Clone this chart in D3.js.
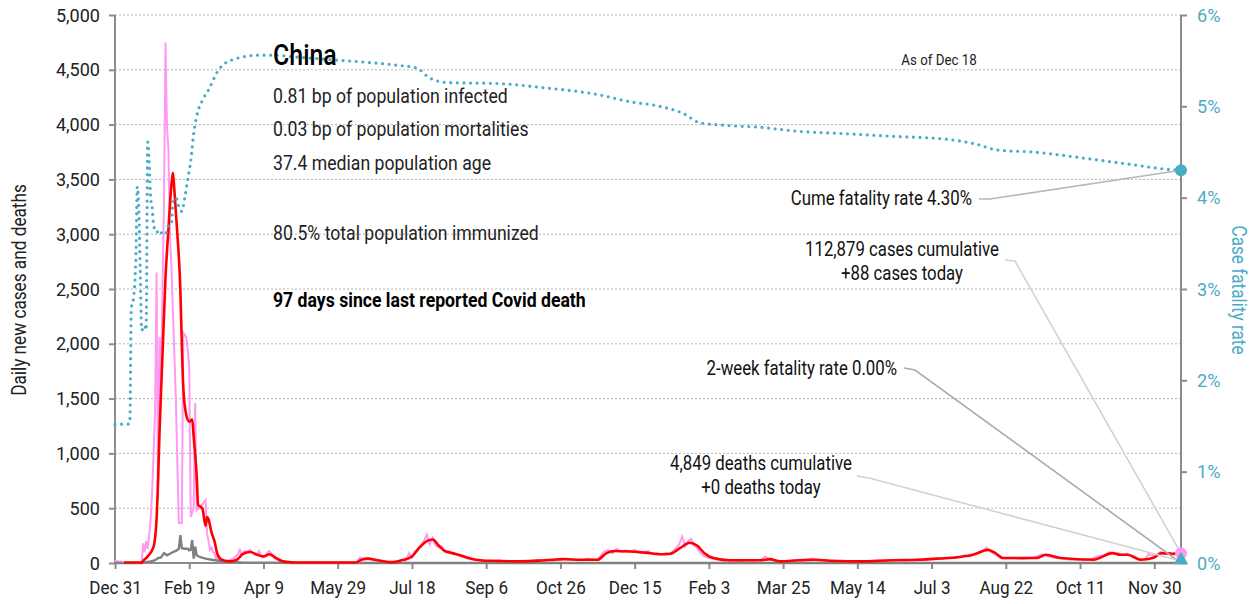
<!DOCTYPE html>
<html><head><meta charset="utf-8">
<script src="https://cdn.jsdelivr.net/npm/d3@7"></script>
<style>
body{margin:0;background:#fff;}
svg text{font-family:Roboto,"Noto Sans",sans-serif;}
</style></head><body>
<svg id="c" width="1255" height="604"></svg>
<script>
// ---------- DATA ----------
const startDate = "2019-12-31";
const endDate = "2021-12-18";
const yTicks = [0,500,1000,1500,2000,2500,3000,3500,4000,4500,5000];
const y2Ticks = [0,1,2,3,4,5,6];

// raw daily new cases (pink)
const dailyCases = [
["2019-12-31",25],["2020-01-01",10],["2020-01-02",20],["2020-01-03",5],["2020-01-04",15],["2020-01-05",0],
["2020-01-17",0],["2020-01-18",10],["2020-01-19",180],["2020-01-20",100],["2020-01-21",200],["2020-01-22",130],
["2020-01-23",250],["2020-01-24",400],["2020-01-25",650],["2020-01-26",1000],["2020-01-27",1400],["2020-01-28",2650],
["2020-01-29",575],["2020-01-30",2060],["2020-01-31",1640],["2020-02-01",2500],["2020-02-02",3300],["2020-02-03",4750],
["2020-02-04",3980],["2020-02-05",3770],["2020-02-06",3000],["2020-02-07",2700],["2020-02-08",2300],["2020-02-09",1900],
["2020-02-10",1490],["2020-02-11",900],["2020-02-12",365],["2020-02-14",365],["2020-02-15",2100],["2020-02-17",2060],
["2020-02-18",1950],["2020-02-19",1790],["2020-02-20",420],["2020-02-22",500],["2020-02-23",1460],["2020-02-24",480],
["2020-02-28",540],["2020-03-01",575],["2020-03-02",270],["2020-03-03",200],["2020-03-04",120],["2020-03-05",140],
["2020-03-06",100],["2020-03-07",90],["2020-03-08",40],["2020-03-09",60],["2020-03-10",25],["2020-03-12",15],
["2020-03-14",20],["2020-03-17",25],["2020-03-20",45],["2020-03-23",80],["2020-03-24",130],["2020-03-25",70],
["2020-03-27",110],["2020-03-29",100],["2020-03-31",120],["2020-04-02",90],["2020-04-04",70],["2020-04-06",110],
["2020-04-08",50],["2020-04-10",60],["2020-04-12",100],["2020-04-13",110],["2020-04-15",70],["2020-04-17",40],
["2020-04-20",15],["2020-04-25",8],["2020-05-01",4],["2020-05-08",6],["2020-05-15",8],["2020-05-22",3],
["2020-05-29",5],["2020-06-05",4],["2020-06-11",10],["2020-06-13",50],["2020-06-15",40],["2020-06-17",30],
["2020-06-19",45],["2020-06-22",25],["2020-06-26",20],["2020-06-30",10],["2020-07-04",8],["2020-07-08",12],
["2020-07-11",30],["2020-07-14",20],["2020-07-16",90],["2020-07-18",50],["2020-07-20",110],["2020-07-22",120],
["2020-07-24",160],["2020-07-26",200],["2020-07-28",260],["2020-07-30",170],["2020-08-01",230],["2020-08-03",160],
["2020-08-05",140],["2020-08-07",150],["2020-08-09",100],["2020-08-12",110],["2020-08-15",80],["2020-08-18",75],
["2020-08-21",55],["2020-08-24",40],["2020-08-27",35],["2020-08-31",25],["2020-09-05",20],["2020-09-10",15],
["2020-09-15",25],["2020-09-20",10],["2020-09-25",15],["2020-10-01",20],["2020-10-06",15],["2020-10-11",25],
["2020-10-16",30],["2020-10-21",20],["2020-10-26",40],["2020-10-30",35],["2020-11-04",30],["2020-11-09",25],
["2020-11-14",40],["2020-11-19",25],["2020-11-22",60],["2020-11-24",100],["2020-11-27",120],["2020-11-30",90],
["2020-12-03",130],["2020-12-06",100],["2020-12-09",115],["2020-12-12",105],["2020-12-15",120],["2020-12-18",95],
["2020-12-21",90],["2020-12-24",110],["2020-12-27",80],["2020-12-30",90],["2021-01-02",75],["2021-01-05",90],
["2021-01-08",80],["2021-01-10",110],["2021-01-12",140],["2021-01-14",170],["2021-01-16",240],["2021-01-18",150],
["2021-01-20",200],["2021-01-22",220],["2021-01-24",160],["2021-01-26",140],["2021-01-28",100],["2021-01-30",70],
["2021-02-02",50],["2021-02-05",40],["2021-02-09",30],["2021-02-13",20],["2021-02-18",25],["2021-02-23",15],
["2021-02-28",25],["2021-03-05",20],["2021-03-10",30],["2021-03-13",60],["2021-03-16",30],["2021-03-20",20],
["2021-03-25",10],["2021-03-30",20],["2021-04-03",30],["2021-04-08",25],["2021-04-13",40],["2021-04-18",25],
["2021-04-23",20],["2021-04-28",15],["2021-05-05",20],["2021-05-12",10],["2021-05-19",15],["2021-05-26",25],
["2021-06-02",20],["2021-06-09",30],["2021-06-16",20],["2021-06-23",35],["2021-06-30",25],["2021-07-05",40],
["2021-07-10",35],["2021-07-15",50],["2021-07-20",45],["2021-07-25",70],["2021-07-29",60],["2021-08-02",90],
["2021-08-06",110],["2021-08-09",140],["2021-08-12",100],["2021-08-15",80],["2021-08-18",50],["2021-08-22",40],
["2021-08-27",45],["2021-09-01",35],["2021-09-06",40],["2021-09-10",50],["2021-09-13",70],["2021-09-16",80],
["2021-09-20",60],["2021-09-24",45],["2021-09-29",40],["2021-10-04",30],["2021-10-09",35],["2021-10-14",25],
["2021-10-19",40],["2021-10-23",60],["2021-10-27",70],["2021-10-31",100],["2021-11-03",85],["2021-11-06",90],
["2021-11-09",70],["2021-11-12",85],["2021-11-15",60],["2021-11-18",40],["2021-11-21",25],["2021-11-24",35],
["2021-11-26",80],["2021-11-28",70],["2021-12-01",60],["2021-12-04",100],["2021-12-07",80],["2021-12-10",95],
["2021-12-13",75],["2021-12-16",90],["2021-12-18",88]
];

// 7-day average of new cases (red)
const avgCases = [
["2020-01-06",5],["2020-01-18",5],["2020-01-19",20],["2020-01-22",60],["2020-01-26",150],["2020-01-28",400],
["2020-01-29",750],["2020-01-30",1200],["2020-02-01",1900],["2020-02-03",2600],["2020-02-05",3050],["2020-02-07",3450],
["2020-02-08",3560],["2020-02-09",3400],["2020-02-11",3000],["2020-02-13",2500],["2020-02-14",2000],["2020-02-15",1600],
["2020-02-17",1350],["2020-02-19",1290],["2020-02-21",1310],["2020-02-22",1150],["2020-02-24",800],["2020-02-25",530],
["2020-02-27",510],["2020-02-28",490],["2020-03-01",340],["2020-03-02",420],["2020-03-03",400],["2020-03-05",280],
["2020-03-07",200],["2020-03-09",80],["2020-03-12",30],["2020-03-17",15],["2020-03-22",30],["2020-03-26",80],
["2020-03-31",100],["2020-04-05",75],["2020-04-09",60],["2020-04-13",80],["2020-04-17",50],["2020-04-22",15],
["2020-04-30",5],["2020-06-10",5],["2020-06-14",30],["2020-06-18",40],["2020-06-25",25],["2020-07-05",8],
["2020-07-11",25],["2020-07-18",60],["2020-07-23",140],["2020-07-28",200],["2020-08-01",215],["2020-08-05",160],
["2020-08-09",110],["2020-08-16",85],["2020-08-23",55],["2020-08-30",30],["2020-09-09",20],["2020-09-29",15],
["2020-10-16",25],["2020-10-29",35],["2020-11-08",30],["2020-11-20",30],["2020-11-26",90],["2020-12-02",110],
["2020-12-12",105],["2020-12-22",95],["2021-01-01",80],["2021-01-08",85],["2021-01-15",140],["2021-01-21",185],
["2021-01-26",160],["2021-01-31",90],["2021-02-06",45],["2021-02-17",25],["2021-03-10",25],["2021-03-16",35],
["2021-03-23",15],["2021-04-05",25],["2021-04-16",30],["2021-04-26",20],["2021-05-16",15],["2021-05-29",20],
["2021-06-07",25],["2021-06-25",30],["2021-07-07",40],["2021-07-22",55],["2021-08-01",80],["2021-08-10",120],
["2021-08-15",90],["2021-08-20",45],["2021-09-12",45],["2021-09-18",75],["2021-09-28",45],["2021-10-20",30],
["2021-11-02",90],["2021-11-07",75],["2021-11-12",75],["2021-11-21",30],["2021-11-29",45],["2021-12-05",90],
["2021-12-12",85],["2021-12-18",90]
];

// daily deaths (grey)
const dailyDeaths = [
["2019-12-31",0],["2020-01-18",0],["2020-01-20",5],["2020-01-24",15],["2020-01-27",25],["2020-01-29",45],
["2020-01-31",50],["2020-02-02",90],["2020-02-04",70],["2020-02-06",85],["2020-02-08",100],["2020-02-10",110],
["2020-02-12",130],["2020-02-13",255],["2020-02-14",135],["2020-02-16",130],["2020-02-18",130],["2020-02-19",115],
["2020-02-20",120],["2020-02-21",210],["2020-02-22",40],["2020-02-23",150],["2020-02-24",70],["2020-02-26",55],
["2020-03-01",40],["2020-03-05",30],["2020-03-10",20],["2020-03-15",12],["2020-03-20",8],["2020-03-25",5],
["2020-04-01",3],["2020-04-15",2],["2020-05-01",0],["2021-12-18",0]
];

// cumulative case fatality rate, % (teal dotted)
const cfr = [
["2019-12-31",1.52],["2020-01-09",1.52],["2020-01-10",1.55],["2020-01-11",2.8],["2020-01-12",2.85],["2020-01-14",3.3],
["2020-01-15",4.12],["2020-01-16",3.9],["2020-01-17",3.2],["2020-01-18",2.55],["2020-01-20",2.6],["2020-01-21",2.55],
["2020-01-22",4.61],["2020-01-23",4.4],["2020-01-24",4.0],["2020-01-25",3.9],["2020-01-26",3.7],["2020-01-28",3.62],
["2020-01-30",3.65],["2020-02-01",3.6],["2020-02-03",3.6],["2020-02-05",3.7],["2020-02-07",3.72],["2020-02-08",3.95],
["2020-02-10",4.0],["2020-02-12",3.9],["2020-02-14",3.85],["2020-02-16",4.0],["2020-02-18",4.2],["2020-02-20",4.4],
["2020-02-22",4.7],["2020-02-24",4.89],["2020-02-28",5.07],["2020-03-03",5.18],["2020-03-09",5.38],["2020-03-19",5.51],
["2020-04-06",5.56],["2020-04-15",5.56],["2020-05-01",5.54],["2020-05-25",5.51],["2020-06-19",5.48],["2020-07-08",5.45],
["2020-07-21",5.42],["2020-07-30",5.31],["2020-08-11",5.26],["2020-09-13",5.25],["2020-10-17",5.2],["2020-11-20",5.13],
["2020-12-12",5.05],["2021-01-01",5.0],["2021-01-17",4.92],["2021-01-28",4.82],["2021-02-16",4.79],["2021-03-10",4.77],
["2021-04-02",4.73],["2021-05-06",4.70],["2021-06-09",4.67],["2021-07-13",4.64],["2021-08-01",4.59],["2021-08-17",4.52],
["2021-09-09",4.50],["2021-10-01",4.46],["2021-10-24",4.41],["2021-11-16",4.36],["2021-12-09",4.31],["2021-12-18",4.30]
];

const twoWeekCfr = 0.00;
const country = "China";
const infoLines = ["0.81 bp of population infected","0.03 bp of population mortalities","37.4 median population age"];
const immunized = "80.5% total population immunized";
const sinceDeath = "97 days since last reported Covid death";
const asOf = "As of Dec 18";
const cumeText = "Cume fatality rate 4.30%";
const casesText = ["112,879 cases cumulative","+88 cases today"];
const twoWeekText = "2-week fatality rate 0.00%";
const deathsText = ["4,849 deaths cumulative","+0 deaths today"];

// ---------- CHART ----------
const parse = d3.utcParse("%Y-%m-%d");
const svg = d3.select("#c");
const L = 115, R = 1181, T = 15, B = 563;
const teal = "#4bacc6", pink = "#ff99f2", red = "#ff0000", grey = "#808080", axisC = "#8c8c8c";
const FONT = 'Roboto,"Noto Sans",sans-serif';

// horizontally condense text glyphs (narrow typeface look)
function condense(sel, k) {
  sel.each(function () {
    const w = this.getComputedTextLength();
    this.setAttribute("textLength", (w * k).toFixed(1));
    this.setAttribute("lengthAdjust", "spacingAndGlyphs");
  });
}

const x = d3.scaleUtc().domain([parse(startDate), parse(endDate)]).range([L, R]);
const y = d3.scaleLinear().domain([0, 5000]).range([B, T]);
const y2 = d3.scaleLinear().domain([0, 6]).range([B, T]);

// grid
svg.append("g").selectAll("line").data(yTicks.filter(d => d > 0)).join("line")
  .attr("x1", L).attr("x2", R).attr("y1", d => y(d)).attr("y2", d => y(d))
  .attr("stroke", "#b4b4b4").attr("stroke-width", 1).attr("stroke-dasharray", "2,2");

// axes
const fmt = d3.format(",");
const gl = svg.append("g").attr("transform", `translate(${L},0)`)
  .call(d3.axisLeft(y).tickValues(yTicks).tickFormat(fmt).tickSize(6).tickPadding(9));
const gr = svg.append("g").attr("transform", `translate(${R},0)`)
  .call(d3.axisRight(y2).tickValues(y2Ticks).tickFormat(d => d + "%").tickSize(6).tickPadding(10));
const start = parse(startDate);
const xTicks = d3.range(0, 15).map(i => d3.utcDay.offset(start, i * 50));
const gb = svg.append("g").attr("transform", `translate(0,${B})`)
  .call(d3.axisBottom(x).tickValues(xTicks).tickFormat(d3.utcFormat("%b %-d")).tickSize(6).tickPadding(12));
[gl, gr, gb].forEach(g => {
  g.select(".domain").attr("stroke", axisC).attr("stroke-width", 2);
  g.selectAll(".tick line").attr("stroke", axisC).attr("stroke-width", 2);
  g.selectAll("text").attr("font-size", 19).attr("fill", "#222").style("font-family", FONT);
});
gl.select(".domain").attr("d", `M0,${T}V${B}`);
gr.select(".domain").attr("d", `M0,${T}V${B}`);
gb.select(".domain").attr("d", `M${L},0H${R}`);
gr.selectAll("text").attr("fill", teal);
condense(gl.selectAll("text"), 0.95);
condense(gr.selectAll("text"), 0.95);
condense(gb.selectAll("text"), 0.9);

// axis titles
const t1 = svg.append("text").attr("transform", `translate(26,290) rotate(-90)`).attr("text-anchor", "middle")
  .attr("font-size", 20).attr("fill", "#222").text("Daily new cases and deaths");
const t2 = svg.append("text").attr("transform", `translate(1232,290) rotate(90)`).attr("text-anchor", "middle")
  .attr("font-size", 20).attr("fill", teal).text("Case fatality rate");

// lines
const line = (ys, curve) => d3.line().x(d => x(parse(d[0]))).y(d => ys(d[1])).curve(curve);
svg.append("path").datum(dailyCases).attr("d", line(y, d3.curveLinear))
  .attr("fill", "none").attr("stroke", pink).attr("stroke-width", 2);
svg.append("path").datum(dailyDeaths).attr("d", line(y, d3.curveLinear))
  .attr("fill", "none").attr("stroke", grey).attr("stroke-width", 2.4);
svg.append("path").datum(avgCases).attr("d", line(y, d3.curveMonotoneX))
  .attr("fill", "none").attr("stroke", red).attr("stroke-width", 2.6);
svg.append("path").datum(cfr).attr("d", line(y2, d3.curveMonotoneX))
  .attr("fill", "none").attr("stroke", teal).attr("stroke-width", 3.2)
  .attr("stroke-linecap", "round").attr("stroke-dasharray", "0,6.6");

// end markers
const ex = x(parse(endDate));
const lastCases = dailyCases[dailyCases.length - 1][1];
const lastCfr = cfr[cfr.length - 1][1];
const lastDeaths = dailyDeaths[dailyDeaths.length - 1][1];

// leader lines
const leader = (pts, color) => svg.append("polyline").attr("points", pts.map(p => p.join(",")).join(" "))
  .attr("fill", "none").attr("stroke", color).attr("stroke-width", 1.6);
leader([[979, 199], [990, 199], [ex, y2(lastCfr)]], "#b8b8b8");
leader([[1005, 260], [1015, 261], [ex, y(lastCases)]], "#d2d2d2");
leader([[904, 368], [915, 370], [ex, y2(twoWeekCfr)]], "#ababab");
leader([[857, 476], [869, 478], [ex, y(lastDeaths) - 2]], "#d2d2d2");

svg.append("circle").attr("cx", ex).attr("cy", y(lastCases)).attr("r", 6).attr("fill", pink);
svg.append("circle").attr("cx", ex).attr("cy", y2(lastCfr)).attr("r", 6).attr("fill", teal);
svg.append("path").attr("d", d3.symbol(d3.symbolTriangle, 90)())
  .attr("transform", `translate(${ex},${y2(twoWeekCfr) - 3})`).attr("fill", teal);

// text block
const T1 = svg.append("g");
T1.append("text").attr("x", 273).attr("y", 55).attr("dominant-baseline", "central")
  .attr("font-size", 29).attr("font-weight", "500").attr("fill", "#000").text(country);
infoLines.forEach((t, i) => T1.append("text").attr("x", 273).attr("y", [96, 129, 163][i])
  .attr("dominant-baseline", "central").attr("font-size", 20.5).attr("fill", "#222").text(t));
T1.append("text").attr("x", 273).attr("y", 233).attr("dominant-baseline", "central")
  .attr("font-size", 20.5).attr("fill", "#222").text(immunized);
T1.append("text").attr("x", 273).attr("y", 300).attr("dominant-baseline", "central")
  .attr("font-size", 20.5).attr("font-weight", "bold").attr("fill", "#000").text(sinceDeath);
const asOfT = svg.append("text").attr("x", 939).attr("y", 60).attr("dominant-baseline", "central").attr("text-anchor", "middle")
  .attr("font-size", 15.5).attr("fill", "#222").text(asOf);

const anns = svg.append("g");
const ann = (txt, xx, yy, anchor) => anns.append("text").attr("x", xx).attr("y", yy)
  .attr("dominant-baseline", "central").attr("text-anchor", anchor)
  .attr("font-size", 19.5).attr("fill", "#111").text(txt);
ann(cumeText, 972, 198, "end");
ann(casesText[0], 902, 249, "middle");
ann(casesText[1], 902, 273, "middle");
ann(twoWeekText, 897, 368, "end");
ann(deathsText[0], 761, 463, "middle");
ann(deathsText[1], 761, 487, "middle");

condense(T1.selectAll("text"), 0.86);
condense(anns.selectAll("text"), 0.86);
condense(asOfT, 0.86);
condense(t1, 0.86);
condense(t2, 0.86);
</script>
</body></html>
